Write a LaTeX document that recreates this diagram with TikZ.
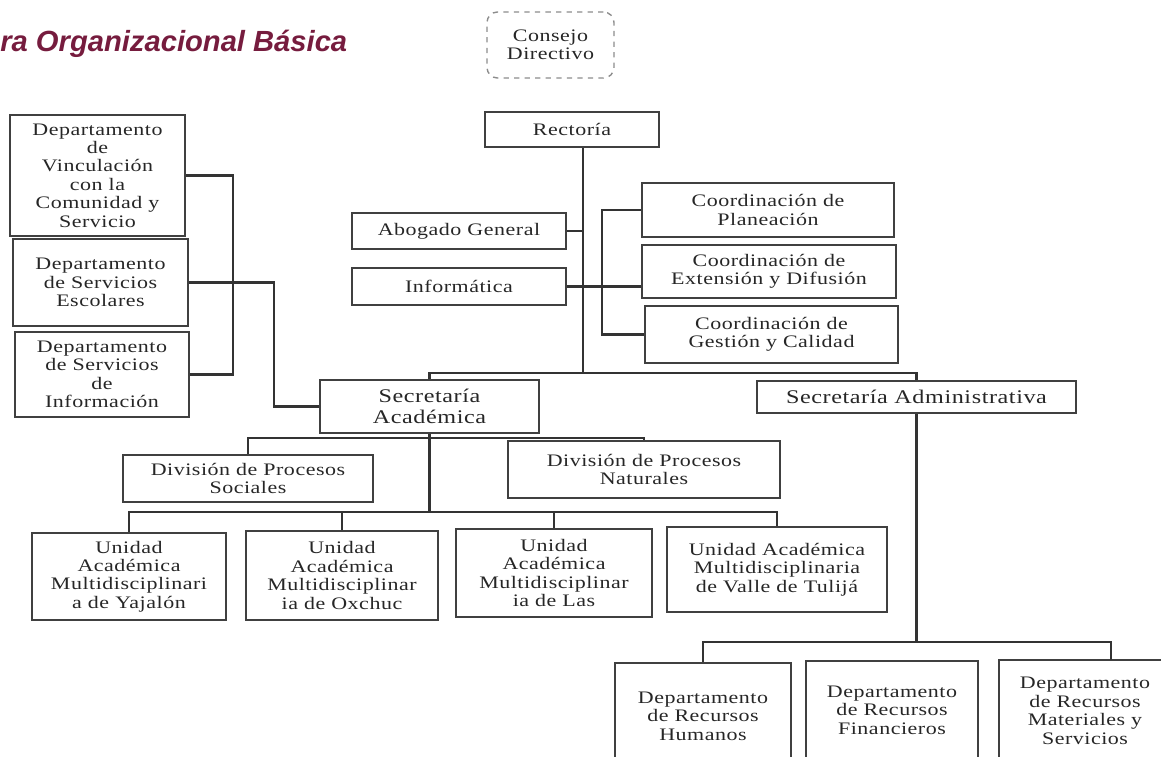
\documentclass[tikz,border=0pt]{standalone}
\usepackage{fontspec}
\setmainfont{Liberation Serif}[FakeStretch=1.25,LetterSpace=3]
\newfontfamily\titulofont{Liberation Sans}
\definecolor{guinda}{RGB}{118,28,62}
\begin{document}
\begin{tikzpicture}[x=0.02cm, y=-0.02cm,
	caja/.style={draw=black!75, line width=1.2pt, align=center, inner sep=1pt, text=black!85, font=\fontsize{10}{10.5}\selectfont},
	grande/.style={font=\fontsize{11}{12}\selectfont},
	tam/.style 2 args={minimum width=#1*0.02cm, minimum height=#2*0.02cm},
	linea/.style={draw=black!80, line width=1.2pt}]
\clip (0,0) rectangle (1161,757);
\node[anchor=base west, inner sep=0, text=guinda, font=\titulofont\bfseries\itshape\fontsize{16.6}{18}\selectfont] (titulo) at (0,52) {ra Organizacional Básica};
\node[caja, tam={127}{66}, dashed, rounded corners=6pt, draw=black!45, line width=0.8pt] (consejo) at (550.5,45) {Consejo\\Directivo};
\node[caja, tam={174}{35}] (rect) at (572,129.5) {Rectoría};
\node[caja, tam={175}{121}] (dvin) at (97.5,175.5) {Departamento\\de\\Vinculación\\con la\\Comunidad y\\Servicio};
\node[caja, tam={175}{87}] (desc) at (100.5,282.5) {Departamento\\de Servicios\\Escolares};
\node[caja, tam={174}{85}] (dinf) at (102,374.5) {Departamento\\de Servicios\\de\\Información};
\node[caja, tam={214}{36}] (abog) at (459,231) {Abogado General};
\node[caja, tam={214}{37}] (info) at (459,286.5) {Informática};
\node[caja, tam={252}{54}] (cplan) at (768,210) {Coordinación de\\Planeación};
\node[caja, tam={254}{53}] (cext) at (769,271.5) {Coordinación de\\Extensión y Difusión};
\node[caja, tam={253}{57}] (cgest) at (771.5,334.5) {Coordinación de\\Gestión y Calidad};
\node[caja, grande, tam={219}{53}] (sacad) at (429.5,406.5) {Secretaría\\Académica};
\node[caja, grande, tam={319}{32}] (sadm) at (916.5,397) {Secretaría Administrativa};
\node[caja, tam={250}{47}] (dsoc) at (248,478.5) {División de Procesos\\Sociales};
\node[caja, tam={272}{57}] (dnat) at (644,469.5) {División de Procesos\\Naturales};
\node[caja, tam={194}{87}] (u1) at (129,576.5) {Unidad\\Académica\\Multidisciplinari\\a de Yajalón};
\node[caja, tam={192}{89}] (u2) at (342,575.5) {Unidad\\Académica\\Multidisciplinar\\ia de Oxchuc};
\node[caja, tam={196}{88}] (u3) at (554,573) {Unidad\\Académica\\Multidisciplinar\\ia de Las};
\node[caja, tam={220}{85}] (u4) at (777,569.5) {Unidad Académica\\Multidisciplinaria\\de Valle de Tulijá};
\node[caja, tam={176}{106}] (rh) at (703,716) {Departamento\\de Recursos\\Humanos};
\node[caja, tam={172}{98}] (rf) at (892,710) {Departamento\\de Recursos\\Financieros};
\node[caja, tam={172}{102}] (rms) at (1085,711) {Departamento\\de Recursos\\Materiales y\\Servicios};
\coordinate (jr) at (583,373);
\coordinate (jc) at (602,0);
\coordinate (jl) at (233,0);
\coordinate (je) at (274,0);
\coordinate (jd) at (429.5,438);
\coordinate (ju) at (429.5,512);
\coordinate (ja) at (916.5,642);
\coordinate (jm) at (1111,660);
\draw[linea] (rect.south -| jr) -- (jr);
\draw[linea] (sacad.north) |- (jr) -| (sadm.north);
\draw[linea] (abog.east) -- (abog.east -| jr);
\draw[linea] (info.east) -- (info.east -| cext.west);
\draw[linea] (cplan.west) -- (cplan.west -| jc) -- (cgest.west -| jc) -- (cgest.west);
\draw[linea] (dvin.east) -- (dvin.east -| jl) -- (dinf.east -| jl) -- (dinf.east);
\draw[linea] (desc.east) -| (je |- sacad.west) -- (sacad.west);
\draw[linea] (sacad.south) -- (ju);
\draw[linea] (dsoc.north) |- (jd) -| (dnat.north);
\draw[linea] (u1.north) |- (ju) -| (u4.north);
\foreach \u in {u2,u3}
	\draw[linea] (\u.north) -- (\u.north |- ju);
\draw[linea] (sadm.south) -- (ja);
\draw[linea] (rh.north) |- (ja) -| (jm);
\end{tikzpicture}
\end{document}
